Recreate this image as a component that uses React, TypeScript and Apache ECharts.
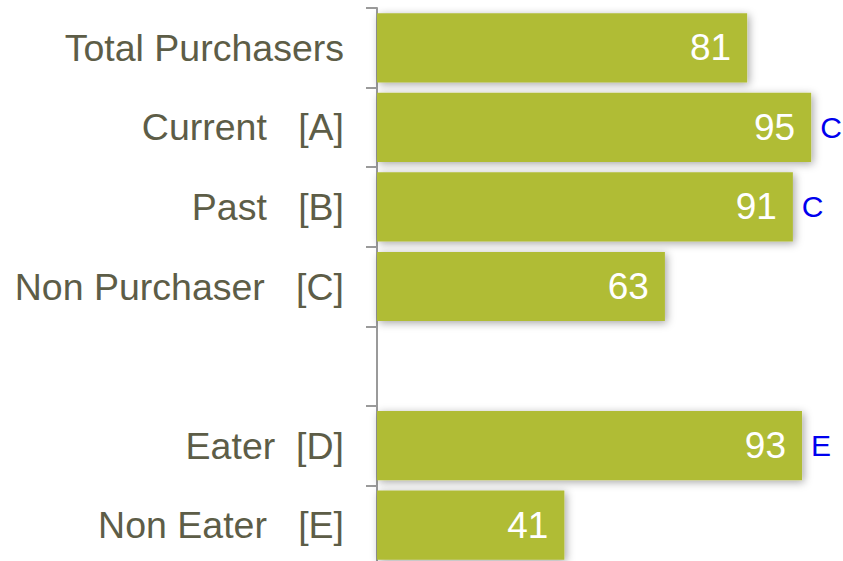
import React, { useEffect, useRef } from "react";
import * as echarts from "echarts";

const categories = ["Total Purchasers", "Current   [A]", "Past   [B]", "Non Purchaser   [C]", "", "Eater  [D]", "Non Eater   [E]"];
const values: (number | null)[] = [81, 95, 91, 63, null, 93, 41];
const sigLetters = ["", "C", "C", "", "", "E", ""];

const FONT = "'Liberation Sans', Arial, Helvetica, sans-serif";

export default function App() {
  const ref = useRef<HTMLDivElement>(null);
  useEffect(() => {
    if (!ref.current) return;
    const chart = echarts.init(ref.current, undefined, { renderer: "svg" });
    chart.setOption({
      animation: false,
      grid: { left: 377, width: 457, top: 8, height: 557, containLabel: false },
      xAxis: { type: "value", min: 0, max: 100, show: false },
      yAxis: {
        type: "category",
        data: categories,
        inverse: true,
        axisLine: { show: true, lineStyle: { color: "#9a9a9a", width: 2 } },
        axisTick: { show: true, length: 11, lineStyle: { color: "#9a9a9a", width: 2 } },
        axisLabel: { margin: 33, color: "#5d5d47", fontSize: 37.5, fontFamily: FONT },
      },
      series: [
        {
          type: "bar",
          data: values,
          barCategoryGap: "13%",
          itemStyle: {
            color: "#b0bc36",
            shadowBlur: 8,
            shadowOffsetX: 2,
            shadowOffsetY: 2,
            shadowColor: "rgba(0,0,0,0.35)",
          },
          label: {
            show: true,
            position: "insideRight",
            distance: 16,
            color: "#ffffff",
            fontSize: 37,
            fontFamily: FONT,
          },
        },
        {
          type: "bar",
          data: values,
          barGap: "-100%",
          barCategoryGap: "13%",
          itemStyle: { color: "rgba(0,0,0,0)" },
          silent: true,
          label: {
            show: true,
            position: "right",
            distance: 9,
            color: "#0000ee",
            fontSize: 30,
            fontFamily: FONT,
            formatter: (p: any) => sigLetters[p.dataIndex] || "",
          },
        },
      ],
    });
    return () => chart.dispose();
  }, []);
  return (
    <div
      ref={ref}
      style={{ position: "fixed", left: 0, top: 0, width: 843, height: 572, background: "#fff" }}
    />
  );
}
